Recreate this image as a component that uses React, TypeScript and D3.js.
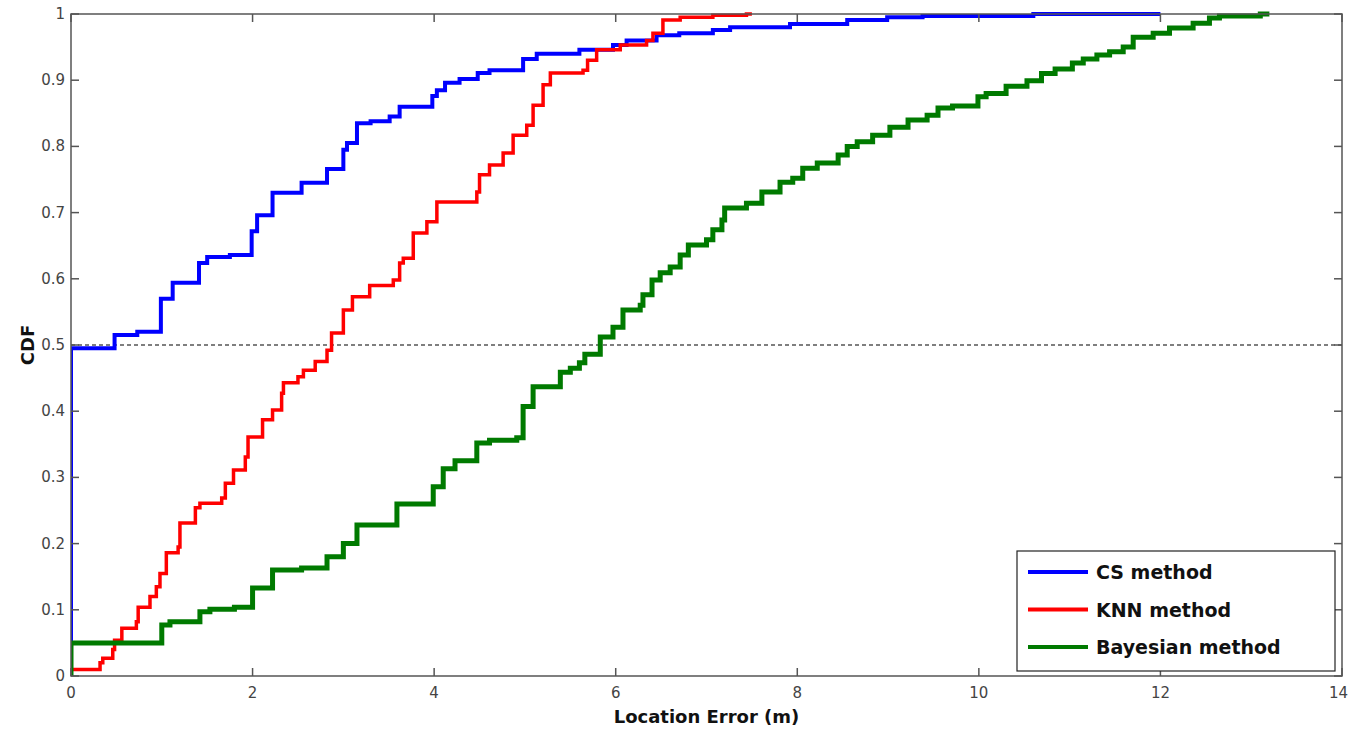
import React from 'react';
import * as d3 from 'd3';

// CDF curves: [location error (m), cumulative probability]
const csMethod: [number, number][] = [
  [0, 0], [0, 0.495], [0.48, 0.515], [0.73, 0.52], [0.99, 0.57], [1.12, 0.594], [1.41, 0.624], [1.5, 0.633],
  [1.75, 0.636], [1.99, 0.672], [2.05, 0.696], [2.22, 0.73], [2.54, 0.745], [2.82, 0.766], [3.0, 0.795],
  [3.04, 0.805], [3.15, 0.835], [3.3, 0.838], [3.51, 0.845], [3.62, 0.86], [3.98, 0.876], [4.03, 0.885],
  [4.12, 0.896], [4.28, 0.902], [4.48, 0.911], [4.61, 0.915], [4.98, 0.932], [5.13, 0.94], [5.6, 0.946],
  [5.97, 0.953], [6.12, 0.96], [6.45, 0.968], [6.7, 0.971], [7.07, 0.976], [7.26, 0.98], [7.92, 0.985],
  [8.55, 0.991], [8.99, 0.995], [9.38, 0.997], [10.6, 1.0], [12.0, 1.0],
];

const knnMethod: [number, number][] = [
  [0, 0.01], [0.32, 0.02], [0.35, 0.027], [0.46, 0.04], [0.48, 0.054], [0.56, 0.072], [0.72, 0.082],
  [0.74, 0.104], [0.87, 0.12], [0.94, 0.135], [0.98, 0.155], [1.05, 0.186], [1.18, 0.195], [1.2, 0.231],
  [1.37, 0.254], [1.42, 0.261], [1.66, 0.269], [1.7, 0.291], [1.79, 0.311], [1.92, 0.331], [1.95, 0.361],
  [2.11, 0.387], [2.22, 0.402], [2.32, 0.427], [2.34, 0.443], [2.5, 0.452], [2.56, 0.462], [2.69, 0.475],
  [2.82, 0.492], [2.87, 0.518], [3.0, 0.553], [3.1, 0.573], [3.29, 0.59], [3.55, 0.598], [3.62, 0.624],
  [3.66, 0.631], [3.77, 0.669], [3.92, 0.686], [4.03, 0.716], [4.47, 0.731], [4.5, 0.757], [4.61, 0.772],
  [4.76, 0.79], [4.87, 0.817], [5.02, 0.832], [5.09, 0.862], [5.2, 0.893], [5.28, 0.911], [5.64, 0.915],
  [5.69, 0.93], [5.79, 0.946], [6.05, 0.953], [6.34, 0.96], [6.41, 0.971], [6.52, 0.991], [6.71, 0.995],
  [7.07, 0.998], [7.44, 1.0], [7.5, 1.0],
];

const bayesianMethod: [number, number][] = [
  [0, 0], [0, 0.05], [1.0, 0.077], [1.09, 0.082], [1.42, 0.097], [1.53, 0.101], [1.8, 0.104], [2.0, 0.133],
  [2.22, 0.16], [2.54, 0.163], [2.82, 0.18], [3.0, 0.2], [3.15, 0.228], [3.59, 0.26], [3.99, 0.286],
  [4.1, 0.313], [4.23, 0.325], [4.47, 0.352], [4.61, 0.356], [4.91, 0.36], [4.98, 0.407], [5.09, 0.437],
  [5.39, 0.459], [5.5, 0.465], [5.6, 0.473], [5.66, 0.486], [5.83, 0.512], [5.97, 0.527], [6.08, 0.553],
  [6.27, 0.56], [6.3, 0.576], [6.4, 0.598], [6.49, 0.609], [6.6, 0.618], [6.71, 0.636], [6.8, 0.651],
  [7.0, 0.659], [7.07, 0.674], [7.17, 0.689], [7.2, 0.707], [7.44, 0.714], [7.61, 0.731], [7.81, 0.746],
  [7.95, 0.752], [8.06, 0.767], [8.22, 0.775], [8.45, 0.787], [8.55, 0.8], [8.66, 0.807], [8.83, 0.817],
  [9.02, 0.829], [9.22, 0.84], [9.43, 0.847], [9.55, 0.858], [9.71, 0.861], [9.99, 0.875], [10.08, 0.88],
  [10.3, 0.891], [10.53, 0.899], [10.69, 0.91], [10.84, 0.917], [11.03, 0.926], [11.15, 0.932],
  [11.3, 0.938], [11.44, 0.943], [11.59, 0.95], [11.7, 0.965], [11.92, 0.971], [12.1, 0.979],
  [12.36, 0.986], [12.54, 0.994], [12.65, 0.997], [13.1, 1.0], [13.2, 1.0],
];

const xTicks = [0, 2, 4, 6, 8, 10, 12, 14];
const yTicks = [0, 0.1, 0.2, 0.3, 0.4, 0.5, 0.6, 0.7, 0.8, 0.9, 1];
const medianLevel = 0.5;

const seriesList = [
  { name: 'CS method', data: csMethod, color: '#0000ff', width: 4 },
  { name: 'KNN method', data: knnMethod, color: '#ff0000', width: 3.5 },
  { name: 'Bayesian method', data: bayesianMethod, color: '#007a00', width: 5 },
];

const width = 1350;
const height = 730;
const margin = { top: 14, right: 8, bottom: 54, left: 71 };

export default function App() {
  const x = d3.scaleLinear().domain([0, 14]).range([margin.left, width - margin.right]);
  const y = d3.scaleLinear().domain([0, 1]).range([height - margin.bottom, margin.top]);

  const line = d3.line<[number, number]>()
    .x(d => x(d[0]))
    .y(d => y(d[1]))
    .curve(d3.curveStepAfter);

  const axisColor = '#555';
  const labelFont = '"DejaVu Sans", sans-serif';
  const x0 = x(0), x1 = x(14), y0 = y(0), y1 = y(1);

  return (
    <div style={{ position: 'absolute', left: 0, top: 0 }}>
      <svg width={width} height={height} style={{ display: 'block', background: '#fff' }}>
        <defs>
          <clipPath id="plot-clip">
            <rect x={x0} y={y1 - 4} width={x1 - x0} height={y0 - y1 + 4} />
          </clipPath>
        </defs>

        {/* dashed median line */}
        <line x1={x0} x2={x1} y1={y(medianLevel)} y2={y(medianLevel)}
          stroke="#000" strokeWidth={1.2} strokeDasharray="4,3" />

        <g clipPath="url(#plot-clip)">
          {seriesList.map(s => (
            <path key={s.name} d={line(s.data) || ''} fill="none" stroke={s.color}
              strokeWidth={s.width} strokeLinejoin="miter" />
          ))}
        </g>

        {/* axes box */}
        <rect x={x0} y={y1} width={x1 - x0} height={y0 - y1} fill="none" stroke={axisColor} strokeWidth={1.5} />

        {xTicks.map((t, i) => {
          const last = i === xTicks.length - 1;
          return (
            <g key={'x' + t}>
              <line x1={x(t)} x2={x(t)} y1={y0} y2={y0 - 8} stroke={axisColor} strokeWidth={1.5} />
              <line x1={x(t)} x2={x(t)} y1={y1} y2={y1 + 8} stroke={axisColor} strokeWidth={1.5} />
              <text x={last ? width - 2 : x(t)} y={y0 + 22} textAnchor={last ? 'end' : 'middle'}
                fontSize={15} fontFamily={labelFont} fill="#444">{t}</text>
            </g>
          );
        })}
        {yTicks.map(t => (
          <g key={'y' + t}>
            <line x1={x0} x2={x0 + 8} y1={y(t)} y2={y(t)} stroke={axisColor} strokeWidth={1.5} />
            <line x1={x1} x2={x1 - 8} y1={y(t)} y2={y(t)} stroke={axisColor} strokeWidth={1.5} />
            <text x={x0 - 6} y={y(t) + 5} textAnchor="end" fontSize={15} fontFamily={labelFont} fill="#444">{t}</text>
          </g>
        ))}

        <text x={(x0 + x1) / 2} y={723} textAnchor="middle" fontSize={18} fontWeight="bold"
          fontFamily={labelFont} fill="#111">Location Error (m)</text>
        <text transform={`translate(34,${(y0 + y1) / 2}) rotate(-90)`} textAnchor="middle" fontSize={18}
          fontWeight="bold" fontFamily={labelFont} fill="#111">CDF</text>

        {/* legend */}
        <g transform="translate(1017,551)">
          <rect x={0} y={0} width={318} height={120} fill="#fff" stroke="#222" strokeWidth={1.2} />
          {seriesList.map((s, i) => (
            <g key={s.name} transform={`translate(0,${21 + i * 37.5})`}>
              <line x1={11} x2={71} y1={0} y2={0} stroke={s.color} strokeWidth={4} />
              <text x={79} y={7} fontSize={19} fontWeight="bold" fontFamily={labelFont} fill="#111">{s.name}</text>
            </g>
          ))}
        </g>
      </svg>
    </div>
  );
}
